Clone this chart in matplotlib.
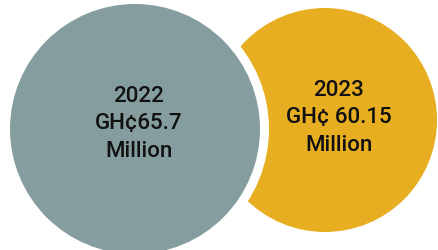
import matplotlib.pyplot as plt
from matplotlib.patches import Circle

years = ["2022", "2023"]
amounts = ["GH¢65.7", "GH¢ 60.15"]
units = ["Million", "Million"]

# layout in pixel coords of a 438x251 canvas
centers = [(135, 130), (325, 121)]
radii = [125, 112]
colors = ["#869da0", "#e8ae22"]
text_pos = [(139, 124), (339, 118)]

fig = plt.figure(figsize=(4.38, 2.51), dpi=100)
ax = fig.add_axes([0, 0, 1, 1])
ax.set_xlim(0, 438)
ax.set_ylim(251, 0)
ax.set_aspect("equal")
ax.axis("off")

# 2023 circle sits behind, 2022 gets a white ring to cut the gap
ax.add_patch(Circle(centers[1], radii[1], facecolor=colors[1], edgecolor="none", zorder=1))
ax.add_patch(Circle(centers[0], radii[0] + 9, facecolor="white", edgecolor="none", zorder=2))
ax.add_patch(Circle(centers[0], radii[0], facecolor=colors[0], edgecolor="none", zorder=3))

for i in range(2):
    label = f"{years[i]}\n{amounts[i]}\n{units[i]}"
    ax.text(text_pos[i][0], text_pos[i][1], label, ha="center", va="center",
            fontsize=16, fontweight="medium", family=["Roboto", "DejaVu Sans"],
            color="#111111", linespacing=1.38, zorder=4)

fig.savefig("out.png", dpi=100, facecolor="white")
